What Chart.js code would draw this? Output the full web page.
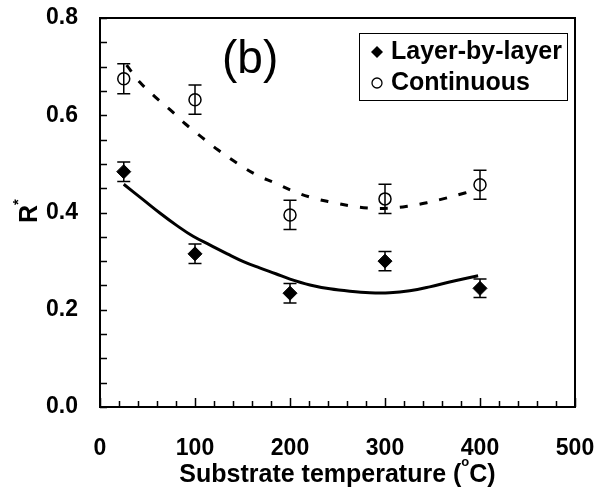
<!DOCTYPE html>
<html lang="en">
<head>
<meta charset="UTF-8">
<title>R* vs substrate temperature</title>
<script src="https://cdn.jsdelivr.net/npm/chart.js"></script>
<style>
  body { margin: 0; background: #fff; }
</style>
</head>
<body>
<canvas id="chart" width="600" height="494"></canvas>
<script>
// measured points (x = substrate temperature, deg C)
const temps = [25, 100, 200, 300, 400];
const layerByLayer = [0.484, 0.315, 0.234, 0.300, 0.244];
const layerErr = [0.020, 0.020, 0.020, 0.020, 0.019];
const continuous = [0.675, 0.632, 0.395, 0.428, 0.457];
const contErr = [0.031, 0.030, 0.030, 0.030, 0.030];

// trend lines
const layerFitX = [25, 45, 63, 81, 98, 116, 134, 151, 168, 185, 200, 221, 242, 263, 284, 305, 326, 347, 368, 398];
const layerFitY = [0.458, 0.427, 0.399, 0.373, 0.351, 0.333, 0.315, 0.299, 0.286, 0.274, 0.263, 0.251, 0.243, 0.238, 0.235, 0.235, 0.239, 0.247, 0.257, 0.270];
const contFitX = [28, 42, 58, 74, 90, 107, 124, 144, 165, 184, 203, 224, 244, 265, 284, 305, 324, 344, 363, 384, 397];
const contFitY = [0.703, 0.668, 0.638, 0.611, 0.582, 0.555, 0.529, 0.502, 0.477, 0.461, 0.444, 0.430, 0.421, 0.413, 0.409, 0.409, 0.413, 0.420, 0.429, 0.440, 0.447];

const xTicks = [0, 100, 200, 300, 400, 500];
const yTicks = [0.0, 0.2, 0.4, 0.6, 0.8];
const seriesNames = ['Layer-by-layer', 'Continuous'];

const FONT = '"Liberation Sans", Arial, sans-serif';

function pts(xs, ys) {
    return xs.map((x, i) => ({ x: x, y: ys[i] }));
}

const decorations = {
    id: 'decorations',
    afterDatasetsDraw(chart) {
        const ctx = chart.ctx;
        const xs = chart.scales.x, ys = chart.scales.y;
        ctx.save();
        ctx.strokeStyle = '#000';
        ctx.lineWidth = 1.5;
        const errBars = (vals, errs) => {
            vals.forEach((v, i) => {
                const px = xs.getPixelForValue(temps[i]);
                const top = ys.getPixelForValue(v + errs[i]);
                const bot = ys.getPixelForValue(v - errs[i]);
                ctx.beginPath();
                ctx.moveTo(px, top); ctx.lineTo(px, bot);
                ctx.moveTo(px - 6.5, top); ctx.lineTo(px + 6.5, top);
                ctx.moveTo(px - 6.5, bot); ctx.lineTo(px + 6.5, bot);
                ctx.stroke();
            });
        };
        errBars(layerByLayer, layerErr);
        errBars(continuous, contErr);
        ctx.restore();
    },
    afterDraw(chart) {
        const ctx = chart.ctx;
        const a = chart.chartArea;
        const xs = chart.scales.x, ys = chart.scales.y;
        ctx.save();
        ctx.strokeStyle = '#000';
        ctx.fillStyle = '#000';

        // frame
        ctx.lineWidth = 2;
        ctx.strokeRect(a.left, a.top, a.right - a.left, a.bottom - a.top);

        // inward tick marks
        ctx.lineWidth = 1.5;
        ctx.beginPath();
        ys.ticks.forEach(t => {
            const py = Math.round(ys.getPixelForValue(t.value)) + 0.5;
            ctx.moveTo(a.left, py); ctx.lineTo(a.left + 7, py);
        });
        xs.ticks.forEach(t => {
            const px = Math.round(xs.getPixelForValue(t.value)) + 0.5;
            const len = t.value % 100 === 0 ? 9 : 6;
            ctx.moveTo(px, a.bottom); ctx.lineTo(px, a.bottom - len);
        });
        ctx.stroke();

        // panel label
        ctx.font = '46px ' + FONT;
        ctx.textBaseline = 'alphabetic';
        ctx.textAlign = 'left';
        ctx.fillText('(b)', 222, 73);

        // legend
        ctx.lineWidth = 1;
        ctx.strokeRect(359.5, 33.5, 208, 67);
        ctx.font = 'bold 25px ' + FONT;
        ctx.textBaseline = 'middle';
        ctx.fillText(seriesNames[0], 391, 52);
        ctx.fillText(seriesNames[1], 391, 83);
        ctx.beginPath();
        ctx.moveTo(377, 46); ctx.lineTo(383, 52); ctx.lineTo(377, 58); ctx.lineTo(371, 52);
        ctx.closePath();
        ctx.fill();
        ctx.lineWidth = 1.3;
        ctx.beginPath();
        ctx.arc(377, 83, 5, 0, Math.PI * 2);
        ctx.stroke();

        // x axis title with superscript
        ctx.textBaseline = 'alphabetic';
        const big = 'bold 25px ' + FONT, small = 'bold 13px ' + FONT;
        const p1 = 'Substrate temperature (', p2 = 'o', p3 = 'C)';
        ctx.font = big;
        const w1 = ctx.measureText(p1).width, w3 = ctx.measureText(p3).width;
        ctx.font = small;
        const w2 = ctx.measureText(p2).width;
        let tx = (a.left + a.right) / 2 - (w1 + w2 + w3) / 2;
        const base = 482;
        ctx.font = big; ctx.fillText(p1, tx, base); tx += w1;
        ctx.font = small; ctx.fillText(p2, tx, base - 16); tx += w2;
        ctx.font = big; ctx.fillText(p3, tx, base);

        // y axis title R*
        ctx.translate(37, 223);
        ctx.rotate(-Math.PI / 2);
        ctx.font = big;
        ctx.fillText('R', 0, 0);
        const wr = ctx.measureText('R').width;
        ctx.font = 'bold 15px ' + FONT;
        ctx.fillText('*', wr, -14);
        ctx.restore();
    }
};

new Chart(document.getElementById('chart'), {
    type: 'scatter',
    data: {
        datasets: [
            {
                label: 'Layer-by-layer fit',
                data: pts(layerFitX, layerFitY),
                showLine: true,
                borderColor: '#000',
                borderWidth: 3,
                pointRadius: 0,
                tension: 0.4
            },
            {
                label: 'Continuous fit',
                data: pts(contFitX, contFitY),
                showLine: true,
                borderColor: '#000',
                borderWidth: 3,
                borderDash: [8, 12],
                pointRadius: 0,
                tension: 0.4
            },
            {
                label: seriesNames[0],
                data: pts(temps, layerByLayer),
                pointStyle: 'rectRot',
                pointRadius: 7,
                backgroundColor: '#000',
                borderColor: '#000',
                borderWidth: 1
            },
            {
                label: seriesNames[1],
                data: pts(temps, continuous),
                pointStyle: 'circle',
                pointRadius: 6,
                backgroundColor: 'rgba(0,0,0,0)',
                borderColor: '#000',
                borderWidth: 1.5
            }
        ]
    },
    options: {
        responsive: false,
        animation: false,
        layout: { padding: { top: 18, right: 25, left: 0, bottom: 0 } },
        plugins: { legend: { display: false }, tooltip: { enabled: false } },
        scales: {
            x: {
                type: 'linear',
                min: 0,
                max: 500,
                grid: { display: false, drawTicks: false },
                border: { display: false },
                ticks: {
                    stepSize: 20,
                    autoSkip: false,
                    maxRotation: 0,
                    padding: 28,
                    color: '#000',
                    font: { family: FONT, size: 23, weight: 'bold' },
                    callback: v => xTicks.includes(v) ? String(v) : ''
                },
                afterFit: s => { s.height = 87; s.paddingLeft = 0; s.paddingRight = 0; }
            },
            y: {
                min: 0,
                max: 0.8,
                grid: { display: false, drawTicks: false },
                border: { display: false },
                ticks: {
                    stepSize: 0.05,
                    autoSkip: false,
                    padding: 22,
                    color: '#000',
                    font: { family: FONT, size: 23, weight: 'bold' },
                    callback: v => {
                        const r = Math.round(v * 10) / 10;
                        return Math.abs(v - r) < 1e-6 && yTicks.some(t => Math.abs(t - r) < 1e-6) ? r.toFixed(1) : '';
                    }
                },
                afterFit: s => { s.width = 100; s.paddingTop = 0; s.paddingBottom = 0; }
            }
        }
    },
    plugins: [decorations]
});
</script>
</body>
</html>
